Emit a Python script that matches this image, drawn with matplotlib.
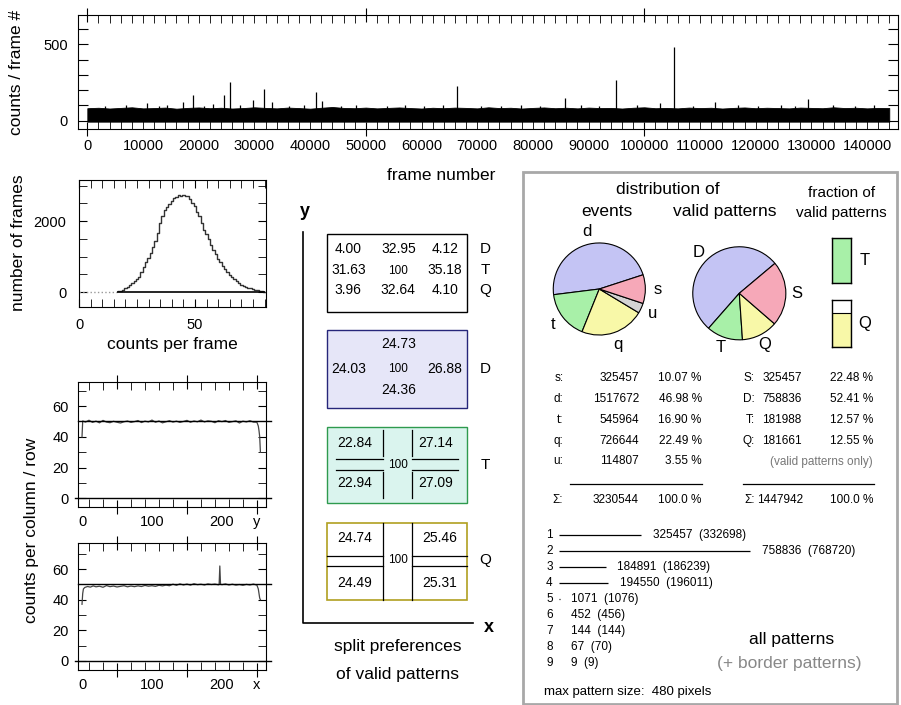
import numpy as np
import matplotlib
matplotlib.use("Agg")
import matplotlib.pyplot as plt
import matplotlib.transforms as mtransforms
from matplotlib.patches import Rectangle
from matplotlib.ticker import MultipleLocator

plt.rcParams['font.family'] = ['Liberation Sans', 'DejaVu Sans']

# ---------------- data ----------------
# counts per frame: upper envelope of the dense band, sampled every 2000 frames
max_frame = 143984
band_step = 2000
band_top = [82, 85, 80, 84, 88, 81, 83, 86, 79, 84, 87, 82, 85, 80, 83, 88, 84, 81,
            86, 83, 79, 85, 90, 84, 82, 86, 81, 84, 87, 83, 80, 85, 82, 86, 84, 81,
            88, 83, 85, 80, 84, 87, 82, 85, 81, 86, 83, 84, 80, 85, 88, 82, 84, 81,
            86, 83, 85, 80, 84, 87, 82, 85, 83, 81, 86, 84, 82, 88, 83, 85, 81, 84, 83]
spike_frames = [10700, 17100, 18970, 22560, 24600, 25550, 29680, 31650, 33150, 41110,
                42070, 66370, 85820, 94970, 102870, 105390, 112750, 129320,
                3100, 6900, 12800, 14300, 20900, 27400, 36200, 38900, 45600, 48200,
                53800, 57100, 60400, 63900, 70600, 74300, 77900, 81200, 88700, 91900,
                98600, 108800, 116900, 120400, 124600, 127100, 133800, 137900, 141200]
spike_counts = [118, 120, 168, 112, 168, 253, 135, 207, 120, 190,
                130, 227, 150, 266, 115, 482, 120, 142,
                98, 101, 96, 104, 99, 106, 97, 100, 95, 102,
                98, 105, 96, 103, 99, 97, 101, 96, 104, 98,
                100, 97, 106, 99, 102, 96, 103, 98, 100]

# histogram of counts per frame
hist_bins = list(range(17, 81))
hist_counts = [20, 40, 70, 100, 140, 190, 240, 300, 370, 430, 560, 700, 850, 960, 1100,
               1260, 1450, 1650, 1950, 2150, 2310, 2400, 2480, 2560, 2660, 2690, 2730,
               2700, 2740, 2710, 2700, 2620, 2500, 2420, 2250, 2140, 1950, 1760, 1620,
               1480, 1330, 1170, 1060, 940, 840, 740, 640, 570, 480, 420, 360, 300, 250,
               210, 170, 140, 120, 100, 80, 60, 45, 30, 20, 10]

# counts per row (y) and per column (x)
row_pos = [0, 1, 5, 10, 15, 20, 25, 30, 35, 40, 45, 50, 55, 60, 65, 70, 75, 80, 85, 90,
           95, 100, 105, 110, 115, 120, 125, 130, 135, 140, 145, 150, 155, 160, 165, 170,
           175, 180, 185, 190, 195, 200, 205, 210, 215, 220, 225, 230, 235, 240, 245, 250,
           252, 253, 254, 255]
row_vals = [40, 50.3, 49.6, 50.8, 49.4, 50.2, 49.1, 50.7, 49.6, 49.2, 50.1, 49.5, 49.0,
            49.8, 50.3, 49.4, 49.9, 50.6, 49.3, 50.2, 49.7, 50.9, 49.5, 50.3, 49.1, 49.8,
            50.5, 49.6, 50.2, 49.4, 50.0, 50.7, 49.5, 50.3, 49.8, 50.9, 49.7, 50.4, 50.1,
            49.2, 50.5, 49.9, 50.6, 49.4, 49.9, 50.4, 49.0, 50.2, 49.7, 50.5, 49.6, 49.5,
            47, 44, 40, 30]
col_pos = [0, 1, 2, 4, 8, 12, 16, 20, 25, 30, 35, 40, 45, 50, 55, 60, 65, 70, 75, 80, 85,
           90, 95, 100, 105, 110, 115, 120, 125, 130, 135, 140, 145, 150, 155, 160, 165,
           170, 175, 180, 185, 190, 195, 196, 197, 198, 200, 205, 210, 215, 220, 225, 230,
           235, 240, 245, 250, 252, 253, 254, 255]
col_vals = [37, 44, 47, 48, 48.6, 48.2, 49.0, 48.4, 48.8, 48.1, 49.2, 48.5, 48.9, 48.3,
            48.7, 49.1, 48.4, 48.9, 48.5, 49.0, 48.6, 49.3, 48.8, 49.1, 48.7, 49.4, 49.0,
            49.5, 49.1, 50.1, 49.4, 50.3, 49.6, 50.2, 49.5, 50.4, 49.8, 50.1, 49.6, 50.3,
            49.9, 50.2, 49.7, 50.0, 62, 50.1, 49.8, 50.3, 49.6, 50.1, 49.5, 49.9, 49.4,
            50.0, 49.6, 50.2, 49.5, 47, 44, 41, 40]

# split preferences (valid patterns)
split_D_T_Q = [["4.00", "32.95", "4.12"], ["31.63", "100", "35.18"], ["3.96", "32.64", "4.10"]]
split_D = ["24.73", "24.03", "100", "26.88", "24.36"]
split_T = ["22.84", "27.14", "22.94", "27.09"]
split_Q = ["24.74", "25.46", "24.49", "25.31"]

# distribution of events / valid patterns
event_labels = ['d', 't', 'q', 'u', 's']
event_counts = [1517672, 545964, 726644, 114807, 325457]
event_colors = ['#c4c4f4', '#a8f0a8', '#f8f8a8', '#d4d4d4', '#f6a8b8']
valid_labels = ['D', 'T', 'Q', 'S']
valid_counts = [758836, 181988, 181661, 325457]
valid_colors = ['#c4c4f4', '#a8f0a8', '#f8f8a8', '#f6a8b8']
frac_T = 1.0
frac_Q = 0.715

ev_rows = [('s:', '325457', '10.07 %'), ('d:', '1517672', '46.98 %'),
           ('t:', '545964', '16.90 %'), ('q:', '726644', '22.49 %'),
           ('u:', '114807', '3.55 %')]
ev_total = ('\u03a3:', '3230544', '100.0 %')
va_rows = [('S:', '325457', '22.48 %'), ('D:', '758836', '52.41 %'),
           ('T:', '181988', '12.57 %'), ('Q:', '181661', '12.55 %')]
va_total = ('\u03a3:', '1447942', '100.0 %')

# all patterns by size (valid, incl. border patterns)
pat_size = [1, 2, 3, 4, 5, 6, 7, 8, 9]
pat_valid = [325457, 758836, 184891, 194550, 1071, 452, 144, 67, 9]
pat_border = [332698, 768720, 186239, 196011, 1076, 456, 144, 70, 9]

# ---------------- layout helpers ----------------
W, H = 901, 705
fig = plt.figure(figsize=(W / 100, H / 100), dpi=100)


def px_axes(x0, y0, x1, y1):
    return fig.add_axes([x0 / W, 1 - y1 / H, (x1 - x0) / W, (y1 - y0) / H])


ov = fig.add_axes([0, 0, 1, 1])
ov.set_xlim(0, W)
ov.set_ylim(H, 0)
ov.axis('off')
ov.patch.set_alpha(0)


def below_labels(ax, pos, labels, yfrac, size):
    tr = mtransforms.blended_transform_factory(ax.transData, ax.transAxes)
    for p, s in zip(pos, labels):
        ax.text(p, yfrac, s, transform=tr, ha='center', va='center', fontsize=size)


# ---------------- counts / frame ----------------
ax = px_axes(78.3, 15, 898, 129.3)
frames = [min(i * band_step, max_frame) for i in range(len(band_top))]
ax.fill_between(frames, -6, band_top, color='k', lw=0.6, edgecolor='k')
ax.vlines(spike_frames, 0, spike_counts, color='k', lw=0.9)
ax.set_xlim(-1620, 145550)
ax.set_ylim(-56, 692)
ax.set_yticks(range(0, 700, 100))
ax.set_yticklabels(['0', '', '', '', '', '500', ''])
ax.tick_params(axis='y', direction='in', length=7, left=True, right=True, labelsize=10.5, pad=7.5)
ax.set_xticks([0, 50000, 100000])
ax.set_xticklabels([])
ax.xaxis.set_minor_locator(MultipleLocator(2000))
ax.tick_params(axis='x', which='major', direction='inout', length=10, top=True, bottom=True)
ax.tick_params(axis='x', which='minor', direction='in', length=6, top=True, bottom=True)
below_labels(ax, range(0, 150000, 10000), [str(v) for v in range(0, 150000, 10000)], -0.15, 10.5)
ov.text(672.7, 45, 'maximum frame #:  %d' % max_frame, fontsize=10.5, ha='left', va='center')
ov.text(17, 72, 'counts / frame #', rotation=90, fontsize=12.5, ha='center', va='center')
ov.text(441, 176, 'frame number', fontsize=12.5, ha='center', va='center')

# ---------------- histogram ----------------
ax = px_axes(79, 180, 265.7, 306.7)
ax.step(hist_bins, hist_counts, where='mid', color='#333333', lw=1)
ax.hlines(0, 0, hist_bins[0] - 0.5, color='#999999', lw=1, linestyles=':')
ax.hlines(0, hist_bins[0] - 0.5, hist_bins[-1], color='k', lw=1.2)
ax.set_xlim(0, 80.5)
ax.set_ylim(-414, 3155)
ax.set_yticks([0, 2000])
ax.yaxis.set_minor_locator(MultipleLocator(500))
ax.set_xticks([0, 50])
ax.xaxis.set_minor_locator(MultipleLocator(5))
ax.tick_params(which='both', direction='in', length=6, left=True, right=True, top=True,
               bottom=True, labelsize=10.5)
ax.tick_params(axis='y', pad=9)
ax.tick_params(axis='x', pad=8)
ov.text(19, 243, 'number of frames', rotation=90, fontsize=12.5, ha='center', va='center')
ov.text(172, 345, 'counts per frame', fontsize=12.5, ha='center', va='center')

# ---------------- counts per row / column ----------------
for (y0, y1, ylim, pos, vals, name) in [
        (382.3, 506.7, (-5.5, 75.5), row_pos, row_vals, 'y'),
        (543.3, 670, (-5.9, 76.8), col_pos, col_vals, 'x')]:
    ax = px_axes(78.3, y0, 266, y1)
    ax.plot(pos, vals, color='#444444', lw=0.9)
    ax.axhline(50, xmin=0, xmax=1.025, color='k', lw=1, clip_on=False)
    ax.axhline(0, xmin=-0.02, xmax=1.025, color='k', lw=1, clip_on=False)
    ax.set_xlim(-5.3, 263)
    ax.set_ylim(*ylim)
    ax.set_yticks([0, 20, 40, 60])
    ax.yaxis.set_minor_locator(MultipleLocator(10))
    ax.tick_params(axis='y', which='both', direction='in', length=6, left=True, right=True,
                   labelsize=10.5, pad=7)
    ax.set_xticks([50, 150, 250])
    ax.set_xticklabels([])
    ax.set_xticks([10, 30, 70, 90, 110, 130, 170, 190, 210, 230], minor=True)
    ax.tick_params(axis='x', which='major', direction='inout', length=10, top=True, bottom=True)
    ax.tick_params(axis='x', which='minor', direction='in', length=6, top=True, bottom=True)
    below_labels(ax, [0, 100, 200, 250], ['0', '100', '200', name], -0.12, 10.5)
ov.text(32, 530, 'counts per column / row', rotation=90, fontsize=12.5, ha='center', va='center')

# ---------------- split preferences ----------------
ov.plot([303.3, 303.3, 472.7], [231.7, 623.3, 623.3], color='k', lw=1.2)
ov.text(305, 212, 'y', fontsize=13, fontweight='bold', ha='center', va='center')
ov.text(489.3, 627, 'x', fontsize=13, fontweight='bold', ha='center', va='center')
bx0, bx1 = 326.7, 467.3
cols = [348.3, 398.3, 445]
fs = 10

ov.add_patch(Rectangle((bx0, 234.3), bx1 - bx0, 78, fc='white', ec='k', lw=1))
for row, yy, lab in zip(split_D_T_Q, [249.3, 270.5, 290], ['D', 'T', 'Q']):
    for cx, s in zip(cols, row):
        ov.text(cx, yy, s, fontsize=fs if s != '100' else 8.5, ha='center', va='center')
    ov.text(485, yy, lab, fontsize=11, ha='center', va='center')

ov.add_patch(Rectangle((bx0, 330), bx1 - bx0, 78.3, fc='#e6e6f8', ec='#26267a', lw=1))
ov.text(398.3, 343.7, split_D[0], fontsize=fs, ha='center', va='center')
ov.text(348.3, 369, split_D[1], fontsize=fs, ha='center', va='center')
ov.text(398.3, 369, split_D[2], fontsize=8.5, ha='center', va='center')
ov.text(445, 369, split_D[3], fontsize=fs, ha='center', va='center')
ov.text(398.3, 390, split_D[4], fontsize=fs, ha='center', va='center')
ov.text(485, 369, 'D', fontsize=11, ha='center', va='center')

ov.add_patch(Rectangle((bx0, 426.7), bx1 - bx0, 76.6, fc='#daf4ee', ec='#2e9a4e', lw=1))
lk = dict(color='k', lw=0.9)
ov.plot([383.3, 383.3], [430, 455.5], **lk)
ov.plot([336, 383.3], [459.3, 459.3], **lk)
ov.plot([411.7, 411.7], [430, 455.5], **lk)
ov.plot([411.7, 458.3], [459.3, 459.3], **lk)
ov.plot([336, 383.3], [470, 470], **lk)
ov.plot([383.3, 383.3], [472, 498.3], **lk)
ov.plot([411.7, 458.3], [470, 470], **lk)
ov.plot([411.7, 411.7], [472, 498.3], **lk)
ov.text(355, 443.3, split_T[0], fontsize=fs, ha='center', va='center')
ov.text(436, 443.3, split_T[1], fontsize=fs, ha='center', va='center')
ov.text(355, 483.3, split_T[2], fontsize=fs, ha='center', va='center')
ov.text(436, 483.3, split_T[3], fontsize=fs, ha='center', va='center')
ov.text(397.5, 465, '100', fontsize=8.5, ha='center', va='center')
ov.text(485, 465, 'T', fontsize=11, ha='center', va='center')

ov.add_patch(Rectangle((bx0, 522.7), bx1 - bx0, 77.3, fc='white', ec='#b0a020', lw=1.2))
ov.plot([383.3, 383.3], [522.7, 600], **lk)
ov.plot([411.7, 411.7], [522.7, 600], **lk)
ov.plot([bx0, 383.3], [555.7, 555.7], **lk)
ov.plot([bx0, 383.3], [565.7, 565.7], **lk)
ov.plot([411.7, bx1], [555.7, 555.7], **lk)
ov.plot([411.7, bx1], [565.7, 565.7], **lk)
ov.text(355, 538.3, split_Q[0], fontsize=fs, ha='center', va='center')
ov.text(439.5, 538.3, split_Q[1], fontsize=fs, ha='center', va='center')
ov.text(355, 583.3, split_Q[2], fontsize=fs, ha='center', va='center')
ov.text(439.5, 583.3, split_Q[3], fontsize=fs, ha='center', va='center')
ov.text(397.5, 560, '100', fontsize=8.5, ha='center', va='center')
ov.text(485, 560, 'Q', fontsize=11, ha='center', va='center')

ov.text(398, 646.7, 'split preferences', fontsize=12.5, ha='center', va='center')
ov.text(398, 675, 'of valid patterns', fontsize=12.5, ha='center', va='center')

# ---------------- right box ----------------
ov.add_patch(Rectangle((523.3, 171.7), 373.4, 532, fc='none', ec='#a8a8a8', lw=2))
ov.text(668.3, 190, 'distribution of', fontsize=12.5, ha='center', va='center')
ov.text(607.3, 211.7, 'events', fontsize=12.5, ha='center', va='center')
ov.text(725, 211.7, 'valid patterns', fontsize=12.5, ha='center', va='center')
ov.text(841.7, 193.3, 'fraction of', fontsize=11, ha='center', va='center')
ov.text(841.7, 213.3, 'valid patterns', fontsize=11, ha='center', va='center')

for (cx, cy, r, vals, labs, colors, start, ld) in [
        (599.3, 289, 46.5, event_counts, event_labels, event_colors, 18, 1.27),
        (739.3, 293.3, 47, valid_counts, valid_labels, valid_colors, 40, 1.24)]:
    pa = px_axes(cx - r, cy - r, cx + r, cy + r)
    wedges, texts = pa.pie(vals, labels=labs, colors=colors, startangle=start,
                           counterclock=True, labeldistance=ld,
                           wedgeprops=dict(edgecolor='k', linewidth=0.8),
                           textprops=dict(fontsize=12))
    for t in texts:
        t.set_ha('center')
        t.set_va('center')
    pa.set_xlim(-1.01, 1.01)
    pa.set_ylim(-1.01, 1.01)
    pa.patch.set_alpha(0)

for (y0, y1, frac, col, lab) in [(237.7, 283.3, frac_T, '#a8f0a8', 'T'),
                                 (300, 346.7, frac_Q, '#f8f8a8', 'Q')]:
    fa = px_axes(832.3, y0, 851, y1)
    fa.bar([0], [frac], width=1, color=col, edgecolor='k', lw=0.8)
    fa.set_xlim(-0.5, 0.5)
    fa.set_ylim(0, 1)
    fa.set_xticks([])
    fa.set_yticks([])
    for sp in fa.spines.values():
        sp.set_linewidth(1)
    ov.text(865, (y0 + y1) / 2, lab, fontsize=12, ha='center', va='center')

tf = 8.5
row_y = [378.3, 399.1, 419.9, 440.7, 461.5]
for (lab, n, p), yy in zip(ev_rows, row_y):
    ov.text(563.3, yy, lab, fontsize=tf, ha='right', va='center')
    ov.text(639, yy, n, fontsize=tf, ha='right', va='center')
    ov.text(701.7, yy, p, fontsize=tf, ha='right', va='center')
for (lab, n, p), yy in zip(va_rows, row_y):
    ov.text(755, yy, lab, fontsize=tf, ha='right', va='center')
    ov.text(801.7, yy, n, fontsize=tf, ha='right', va='center')
    ov.text(873.3, yy, p, fontsize=tf, ha='right', va='center')
ov.text(821.7, row_y[4], '(valid patterns only)', fontsize=tf, color='#777777', ha='center', va='center')
ov.plot([570, 701.7], [484, 484], color='k', lw=0.9)
ov.plot([742.7, 874], [484, 484], color='k', lw=0.9)
ov.text(563.3, 500, ev_total[0], fontsize=tf, ha='right', va='center')
ov.text(639, 500, ev_total[1], fontsize=tf, ha='right', va='center')
ov.text(701.7, 500, ev_total[2], fontsize=tf, ha='right', va='center')
ov.text(755, 500, va_total[0], fontsize=tf, ha='right', va='center')
ov.text(803, 500, va_total[1], fontsize=tf, ha='right', va='center')
ov.text(873.3, 500, va_total[2], fontsize=tf, ha='right', va='center')

# pattern sizes
pa = px_axes(559.3, 527, 895, 671)
pa.hlines(pat_size, 0, pat_valid, color='k', lw=0.9)
pa.set_xlim(0, (895 - 559.3) * 3980)
pa.set_ylim(9.5, 0.5)
pa.axis('off')
for s, v, b in zip(pat_size, pat_valid, pat_border):
    pa.annotate('%d  (%d)' % (v, b), xy=(v, s), xytext=(8.4, 0), textcoords='offset points',
                fontsize=8.5, ha='left', va='center')
    pa.annotate(str(s), xy=(0, s), xytext=(-7.2, 0), textcoords='offset points',
                fontsize=8.5, ha='center', va='center')

ov.text(791.7, 639.3, 'all patterns', fontsize=12.5, ha='center', va='center')
ov.text(789.3, 663.3, '(+ border patterns)', fontsize=12.5, color='#888888', ha='center', va='center')
ov.text(544, 691.7, 'max pattern size:  480 pixels', fontsize=9.5, ha='left', va='center')

fig.savefig('out.png', dpi=100)
